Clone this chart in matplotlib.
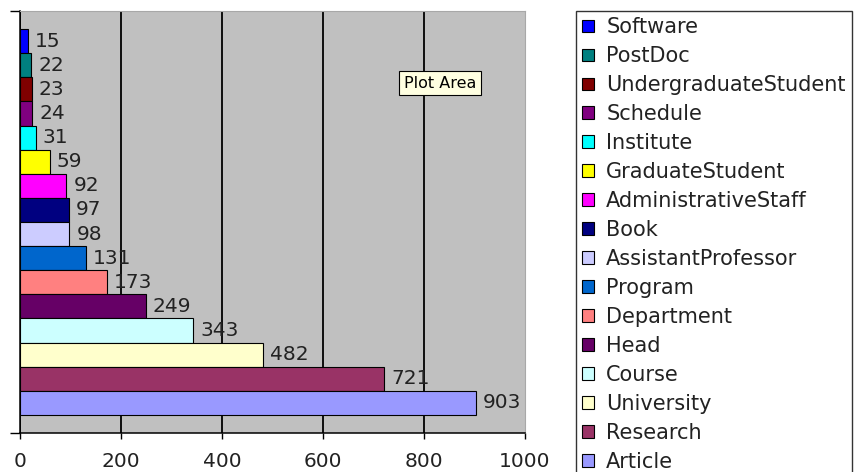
import matplotlib
matplotlib.use('Agg')
import matplotlib.pyplot as plt
from matplotlib.patches import Patch

# Series, top to bottom as they appear in the chart
categories = ['Software', 'PostDoc', 'UndergraduateStudent', 'Schedule', 'Institute',
              'GraduateStudent', 'AdministrativeStaff', 'Book', 'AssistantProfessor',
              'Program', 'Department', 'Head', 'Course', 'University', 'Research', 'Article']
counts = [15, 22, 23, 24, 31, 59, 92, 97, 98, 131, 173, 249, 343, 482, 721, 903]
colors = ['#0000FF', '#008080', '#800000', '#800080', '#00FFFF', '#FFFF00', '#FF00FF',
          '#000080', '#CCCCFF', '#0066CC', '#FF8080', '#660066', '#CCFFFF', '#FFFFCC',
          '#993366', '#9999FF']
x_ticks = [0, 200, 400, 600, 800, 1000]

W, H = 862, 472
fig = plt.figure(figsize=(W / 100, H / 100), dpi=100)
ax = fig.add_axes([20 / W, 39 / H, 505 / W, 422 / H])
ax.set_facecolor('#C0C0C0')

# bottom row is the last series
n = len(categories)
ypos = [n - 1 - i for i in range(n)]
bars = ax.barh(ypos, counts, height=1.0, color=colors, edgecolor='black',
               linewidth=0.8, zorder=3)
ax.bar_label(bars, labels=[str(v) for v in counts], padding=5,
             fontsize=14.5, color='#222222', zorder=4)

ax.set_xlim(x_ticks[0], x_ticks[-1])
pad = 0.75
ax.set_ylim(-0.5 - pad, n - 0.5 + pad)

ax.set_xticks(x_ticks)
ax.set_xticklabels([str(t) for t in x_ticks], fontsize=14.5, color='#222222')
ax.tick_params(axis='x', direction='out', length=4.5, width=1.0, pad=9)
ax.set_yticks(list(ax.get_ylim()))
ax.set_yticklabels([])
ax.tick_params(axis='y', direction='out', length=7, width=1.0)

ax.grid(axis='x', color='black', linewidth=1.3, zorder=1)
ax.set_axisbelow(True)
ax.get_xgridlines()[-1].set_visible(False)

for side in ['left', 'bottom']:
    ax.spines[side].set_color('black')
    ax.spines[side].set_linewidth(1.1)
for side in ['top', 'right']:
    ax.spines[side].set_color('#A8A8A8')
    ax.spines[side].set_linewidth(0.8)

# tooltip box left over from the spreadsheet screenshot
fig.text(440 / W, 1 - 83 / H, 'Plot Area', fontsize=11.5, ha='center', va='center',
         bbox=dict(boxstyle='square,pad=0.3', facecolor='#FFFFE1', edgecolor='black',
                   linewidth=0.8))

handles = [Patch(facecolor=c, edgecolor='black', linewidth=0.8) for c in colors]
leg = fig.legend(handles, categories, loc='upper left',
                 bbox_to_anchor=(576 / W, 1 - 11 / H), bbox_transform=fig.transFigure,
                 fontsize=15, frameon=True, fancybox=False, borderpad=0.3,
                 borderaxespad=0, handlelength=0.55, handleheight=0.55,
                 handletextpad=0.6, labelspacing=0.43)
leg.get_frame().set_edgecolor('black')
leg.get_frame().set_linewidth(1.0)
for t in leg.get_texts():
    t.set_color('#222222')

fig.savefig('out.png', dpi=100)
